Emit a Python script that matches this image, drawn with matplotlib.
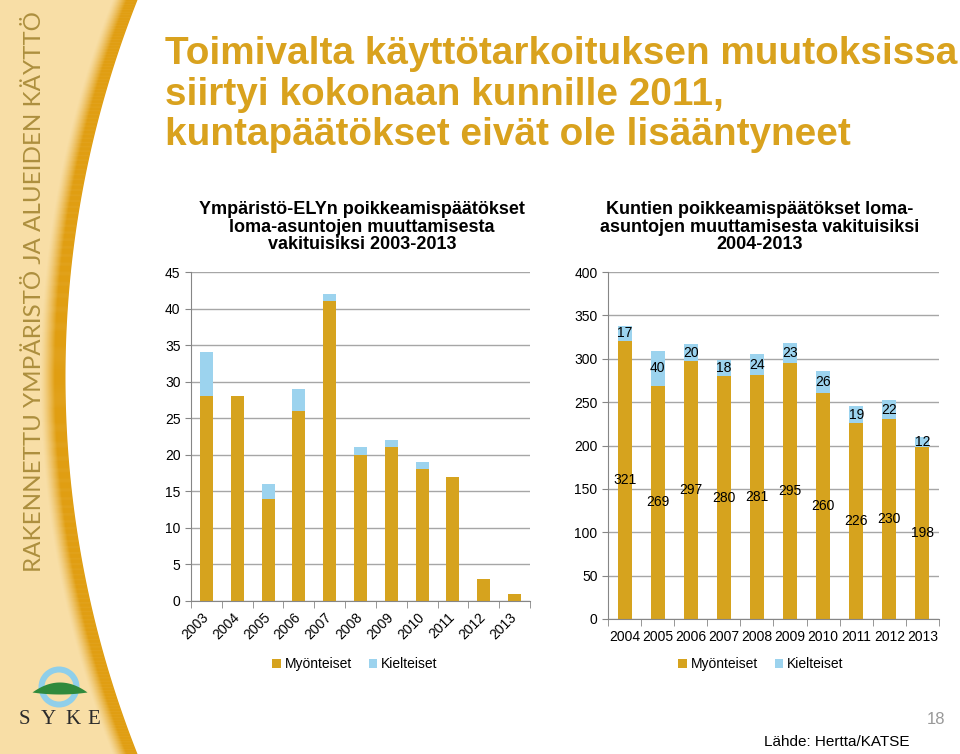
import matplotlib
matplotlib.use("Agg")
import matplotlib.pyplot as plt
import matplotlib.patches as mpatches
import numpy as np

plt.rcParams['font.family'] = ['Liberation Sans', 'DejaVu Sans']

# data: ELY-keskukset 2003-2013
ely_years = ['2003', '2004', '2005', '2006', '2007', '2008', '2009', '2010', '2011', '2012', '2013']
ely_myon = [28, 28, 14, 26, 41, 20, 21, 18, 17, 3, 1]
ely_kielt = [6, 0, 2, 3, 1, 1, 1, 1, 0, 0, 0]

# data: kunnat 2004-2013
kunta_years = ['2004', '2005', '2006', '2007', '2008', '2009', '2010', '2011', '2012', '2013']
kunta_myon = [321, 269, 297, 280, 281, 295, 260, 226, 230, 198]
kunta_kielt = [17, 40, 20, 18, 24, 23, 26, 19, 22, 12]

gold = '#D6A31E'
blue = '#9CD3EE'
axcol = '#868686'
gridcol = '#A6A6A6'
titlecol = '#D9A21E'

fig = plt.figure(figsize=(9.6, 7.54), dpi=100)

# background / sidebar
bg = fig.add_axes([0, 0, 1, 1], zorder=-1)
bg.set_xlim(0, 960)
bg.set_ylim(754, 0)
bg.axis('off')
yy = np.linspace(0, 754, 400)
edge = 1088 - np.sqrt(1023**2 - (yy - 377)**2)
bg.fill_betweenx(yy, 0, edge, color='#F8DEA6', lw=0)
# golden gradient band along the curve
n = 24
band = 24
c0 = np.array(matplotlib.colors.to_rgb('#F8DEA6'))
c1 = np.array(matplotlib.colors.to_rgb('#E09E12'))
for k in range(n):
    f = min(1.0, (k + 1) / (n * 0.6))
    col = c0 + (c1 - c0) * f**1.3
    bg.fill_betweenx(yy, edge - band + band * k / n, edge - band + band * (k + 1) / n + 0.5, color=col, lw=0)
bg.text(35, 572, 'RAKENNETTU YMPÄRISTÖ JA ALUEIDEN KÄYTTÖ', rotation=90, ha='center', va='bottom',
        fontsize=17.4, color='#AD8F3E', family=['Lato', 'DejaVu Sans'])

# SYKE logo
bg.add_patch(mpatches.Annulus((59, 687), 20.5, 6, color='#8FCFEA', lw=0))
lx = np.linspace(32, 87, 60)
t = (lx - 59.5) / 27.5
top = 692 - 10 * (1 - t**2)
bot = 692 + 2 * (1 - t**2)
bg.fill_between(lx, top, bot, color='#2F8A3C', lw=0)
for ch, cx in zip('SYKE', [24, 48.5, 72.5, 94]):
    bg.text(cx, 719, ch, ha='center', va='center', fontsize=15,
            family=['Liberation Serif', 'DejaVu Serif'], color='#2B2B2B')

# main title
title_lines = ['Toimivalta käyttötarkoituksen muutoksissa',
               'siirtyi kokonaan kunnille 2011,',
               'kuntapäätökset eivät ole lisääntyneet']
for line, yb in zip(title_lines, [64, 105, 145]):
    bg.text(165, yb, line, ha='left', va='baseline', fontsize=27.9, fontweight='bold', color=titlecol)


def style_axes(ax):
    for s in ['top', 'right']:
        ax.spines[s].set_visible(False)
    ax.spines['left'].set_color(axcol)
    ax.spines['bottom'].set_color(axcol)
    ax.grid(axis='y', color=gridcol, lw=1)
    ax.set_axisbelow(True)
    ax.tick_params(axis='y', colors=axcol, labelcolor='black', labelsize=10, length=4)
    ax.tick_params(axis='x', which='major', length=0, labelsize=10)
    ax.tick_params(axis='x', which='minor', length=5, color=axcol)


# left chart
ax1 = fig.add_axes([191 / 960, 1 - 601 / 754, 339 / 960, 329 / 754])
x1 = np.arange(len(ely_years))
ax1.bar(x1, ely_myon, 0.42, color=gold, label='Myönteiset')
ax1.bar(x1, ely_kielt, 0.42, bottom=ely_myon, color=blue, label='Kielteiset')
ax1.set_xlim(-0.5, len(ely_years) - 0.5)
ax1.set_ylim(0, 45)
ax1.set_yticks(np.arange(0, 46, 5))
ax1.set_xticks(x1)
ax1.set_xticklabels(ely_years, rotation=45, ha='right', va='center', rotation_mode='anchor')
ax1.set_xticks(np.arange(-0.5, len(ely_years), 1), minor=True)
style_axes(ax1)
ax1.tick_params(axis='x', which='major', pad=10)
bg.text(362, 227, 'Ympäristö-ELYn poikkeamispäätökset\nloma-asuntojen muuttamisesta\nvakituisiksi 2003-2013',
        ha='center', va='center', fontsize=13, fontweight='bold', linespacing=1.05)
fig.legend(*ax1.get_legend_handles_labels(), loc='center', bbox_to_anchor=(355 / 960, 1 - 664 / 754),
           ncol=2, frameon=False, fontsize=10, handlelength=0.6, handleheight=0.6,
           handletextpad=0.3, columnspacing=1.2)

# right chart
ax2 = fig.add_axes([608 / 960, 1 - 619 / 754, 331 / 960, 347 / 754])
x2 = np.arange(len(kunta_years))
b1 = ax2.bar(x2, kunta_myon, 0.42, color=gold, label='Myönteiset')
b2 = ax2.bar(x2, kunta_kielt, 0.42, bottom=kunta_myon, color=blue, label='Kielteiset')
ax2.bar_label(b1, label_type='center', fontsize=10)
ax2.bar_label(b2, label_type='center', fontsize=10)
ax2.set_xlim(-0.5, len(kunta_years) - 0.5)
ax2.set_ylim(0, 400)
ax2.set_yticks(np.arange(0, 401, 50))
ax2.set_xticks(x2)
ax2.set_xticklabels(kunta_years)
ax2.set_xticks(np.arange(-0.5, len(kunta_years), 1), minor=True)
style_axes(ax2)
ax2.tick_params(axis='x', which='major', pad=8)
bg.text(760, 227, 'Kuntien poikkeamispäätökset loma-\nasuntojen muuttamisesta vakituisiksi\n2004-2013',
        ha='center', va='center', fontsize=13, fontweight='bold', linespacing=1.05)
fig.legend(*ax2.get_legend_handles_labels(), loc='center', bbox_to_anchor=(761 / 960, 1 - 664 / 754),
           ncol=2, frameon=False, fontsize=10, handlelength=0.6, handleheight=0.6,
           handletextpad=0.3, columnspacing=1.2)

# footer
bg.text(945, 720, '18', ha='right', va='center', fontsize=12, color='#999999')
bg.text(910, 746, 'Lähde: Hertta/KATSE', ha='right', va='baseline', fontsize=11, color='black')

fig.savefig('out.png', dpi=100)
